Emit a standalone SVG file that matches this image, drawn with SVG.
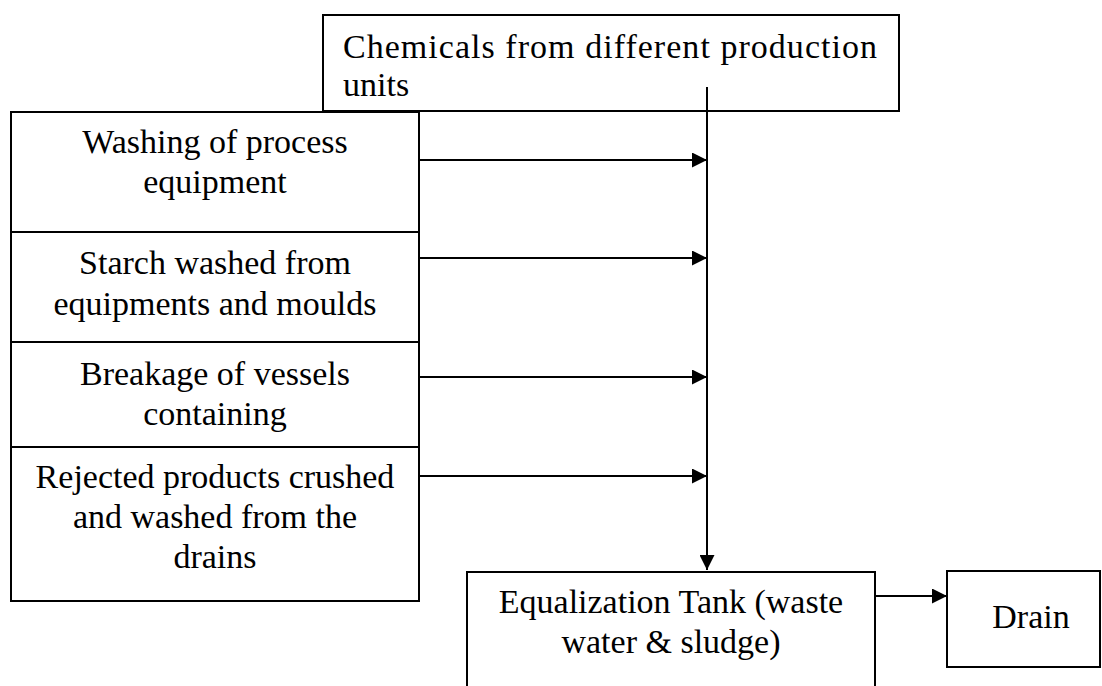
<svg xmlns="http://www.w3.org/2000/svg" width="1102" height="686" viewBox="0 0 1102 686">
<defs>
<marker id="arr" markerUnits="userSpaceOnUse" markerWidth="15" markerHeight="15" refX="15" refY="7.5" orient="auto">
<path d="M0,0 L15,7.5 L0,15 z" fill="#000"/>
</marker>
<style>
.box{fill:#fff;stroke:#000;stroke-width:2}
.t{font-family:"Liberation Serif","Times New Roman",serif;font-size:34px;fill:#000}
.c{text-anchor:middle}
.ar{stroke:#000;stroke-width:2;fill:none;marker-end:url(#arr)}
</style>
</defs>
<rect x="0" y="0" width="1102" height="686" fill="#fff"/>
<g id="chemicals">
<rect class="box" x="323" y="15" width="576" height="96"/>
<text class="t" x="343" y="58" textLength="534" lengthAdjust="spacing">Chemicals from different production</text>
<text class="t" x="343" y="96">units</text>
</g>
<g id="washing">
<rect class="box" x="11" y="112" width="408" height="120"/>
<text class="t c" x="215" y="153">Washing of process</text>
<text class="t c" x="215" y="193">equipment</text>
</g>
<g id="starch">
<rect class="box" x="11" y="232" width="408" height="110"/>
<text class="t c" x="215" y="274">Starch washed from</text>
<text class="t c" x="215" y="315">equipments and moulds</text>
</g>
<g id="breakage">
<rect class="box" x="11" y="342" width="408" height="105"/>
<text class="t c" x="215" y="385">Breakage of vessels</text>
<text class="t c" x="215" y="425">containing</text>
</g>
<g id="rejected">
<rect class="box" x="11" y="447" width="408" height="154"/>
<text class="t c" x="215" y="488">Rejected products crushed</text>
<text class="t c" x="215" y="528">and washed from the</text>
<text class="t c" x="215" y="568">drains</text>
</g>
<g id="equalization">
<rect class="box" x="467" y="572" width="408" height="140"/>
<text class="t c" x="671" y="613">Equalization Tank (waste</text>
<text class="t c" x="671" y="653">water &amp; sludge)</text>
</g>
<g id="drain">
<rect class="box" x="947" y="571" width="153" height="96"/>
<text class="t c" x="1031" y="628">Drain</text>
</g>
<g id="connectors">
<line class="ar" x1="707" y1="87" x2="707" y2="570"/>
<line class="ar" x1="419" y1="160" x2="707" y2="160"/>
<line class="ar" x1="419" y1="258" x2="707" y2="258"/>
<line class="ar" x1="419" y1="377" x2="707" y2="377"/>
<line class="ar" x1="419" y1="476" x2="707" y2="476"/>
<line class="ar" x1="875" y1="596" x2="947" y2="596"/>
</g>
</svg>
